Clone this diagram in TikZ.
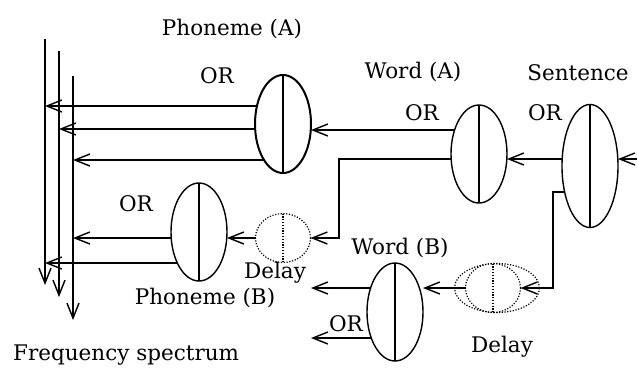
\documentclass[tikz,border=0pt]{standalone}
\usepackage{fontspec}
\setmainfont{DejaVu Serif}
\usetikzlibrary{shapes.geometric,arrows.meta,calc,backgrounds}
\begin{document}
\begin{tikzpicture}[x=1pt,y=-1pt,
  lw/.style={line width=1.4pt},
  arr/.style={lw,-{Straight Barb[length=15pt,width=12pt,line width=1.4pt]}},
  unit/.style={draw,ellipse,lw,fill=white,inner sep=0pt,outer sep=0pt,minimum width=56pt,minimum height=98pt},
  delayc/.style={draw,ellipse,line width=1.2pt,dash pattern=on 1.2pt off 1.6pt,inner sep=0pt,outer sep=0pt,minimum width=55pt,minimum height=49pt},
  dots/.style={line width=1.2pt,dash pattern=on 1.2pt off 1.6pt},
  lbl/.style={font=\fontsize{21.5}{24}\selectfont,inner sep=0pt}]
\useasboundingbox (0,0) rectangle (637,368);
% units
\node[unit,line width=2pt] (pa) at (283,124) {};
\node[unit] (pb) at (199,232) {};
\node[unit] (wa) at (479,154) {};
\node[unit,minimum height=123pt] (sn) at (590,166) {};
\node[unit] (wb) at (395,312) {};
\node[delayc] (d1) at (283,238) {};
\node[delayc] (d2) at (493,288) {};
\node[delayc,minimum width=85pt] (d2o) at (497,288) {};
\draw[line width=2pt] (pa.north) -- (pa.south);
\draw[lw] (pb.north) -- (pb.south);
\draw[lw] (wa.north) -- (wa.south);
\draw[lw] (sn.north) -- (sn.south);
\draw[lw] (wb.north) -- (wb.south);
\draw[dots] (d1.north) -- (d1.south);
\draw[dots] (d2.north) -- (d2.south);
% bus lines
\coordinate (b1t) at (45,39);  \coordinate (b1b) at (45,285);
\coordinate (b2t) at (59,51);  \coordinate (b2b) at (59,297);
\coordinate (b3t) at (73,76);  \coordinate (b3b) at (73,320);
\draw[arr] (b1t) -- (b1b);
\draw[arr] (b2t) -- (b2b);
\draw[arr] (b3t) -- (b3b);
% connection points
\coordinate (pa1) at ($(pa.center)+(0,-18)$);
\coordinate (pa2) at ($(pa.center)+(0,5)$);
\coordinate (pa3) at ($(pa.center)+(0,36)$);
\coordinate (pb1) at ($(pb.center)+(0,6)$);
\coordinate (pb2) at ($(pb.center)+(0,31)$);
\coordinate (wa1) at ($(wa.center)+(0,-24)$);
\coordinate (wa2) at ($(wa.center)+(0,5)$);
\coordinate (sn1) at ($(sn.center)+(0,-7)$);
\coordinate (sn2) at ($(sn.center)+(0,26)$);
\coordinate (wb1) at ($(wb.center)+(0,-24)$);
\coordinate (wb2) at ($(wb.center)+(0,26)$);
\coordinate (k1) at (339,159);
\coordinate (k2) at (553,192);
\coordinate (in) at (637,159);
\coordinate (o1) at (311,288);
\coordinate (o2) at (311,338);
\begin{scope}[on background layer]
\draw[arr] (pa1) -- (pa1 -| b1t);
\draw[arr] (pa2) -- (pa2 -| b2t);
\draw[arr] (pa3) -- (pa3 -| b3t);
\draw[arr] (pb1) -- (pb1 -| b3t);
\draw[arr] (pb2) -- (pb2 -| b1t);
\draw[arr] (wa1) -- (wa1 -| pa.east);
\draw[arr] (wa2) -- (k1) |- (d1.east);
\draw[arr] (sn1) -- (sn1 -| wa.east);
\draw[arr] (sn2) -- (k2) |- (d2.east);
\draw[arr] (wb1) -- (o1);
\draw[arr] (wb2) -- (o2);
\end{scope}
\draw[arr] (in) -- (in -| sn.east);
\draw[arr] (d1.west) -- (d1.west -| pb.east);
\draw[arr] (d2.west) -- (d2.west -| wb.east);
% labels
\node[lbl] (tpa) at (232,29) {Phoneme (A)};
\node[lbl] (or1) at (217,76) {OR};
\node[lbl] (twa) at (413,72) {Word (A)};
\node[lbl] (tsn) at (578,73) {Sentence};
\node[lbl] (or2) at (422,113) {OR};
\node[lbl] (or3) at (545,113) {OR};
\node[lbl] (or4) at (136,204) {OR};
\node[lbl] (td1) at (275,273) {Delay};
\node[lbl] (tpb) at (205,298) {Phoneme (B)};
\node[lbl] (twb) at (400,248) {Word (B)};
\node[lbl] (or5) at (346,324) {OR};
\node[lbl] (td2) at (502,347) {Delay};
\node[lbl,anchor=west] (tfs) at (13,355) {Frequency spectrum};
\end{tikzpicture}
\end{document}
